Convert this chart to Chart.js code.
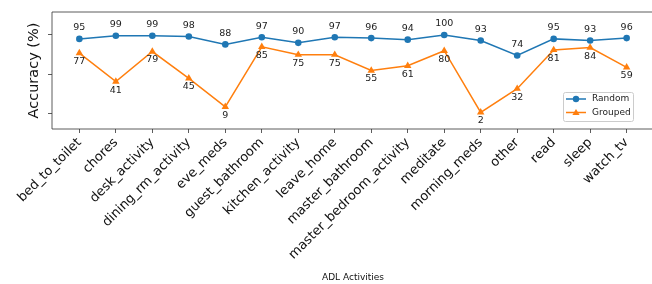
<!DOCTYPE html>
<html>
<head>
<meta charset="utf-8">
<script src="https://cdn.jsdelivr.net/npm/chart.js@4.4.0/dist/chart.umd.min.js"></script>
<style>
  html, body { margin: 0; padding: 0; background: #fff; overflow: hidden; }
  #wrap { width: 652px; height: 284px; overflow: hidden; position: relative; }
  #accChart { position: absolute; left: 0; top: 0; }
</style>
</head>
<body>
<div id="wrap"><canvas id="accChart" width="700" height="284" style="width:700px;height:284px"></canvas></div>
<script>
const activities = ['bed_to_toilet', 'chores', 'desk_activity', 'dining_rm_activity', 'eve_meds',
  'guest_bathroom', 'kitchen_activity', 'leave_home', 'master_bathroom', 'master_bedroom_activity',
  'meditate', 'morning_meds', 'other', 'read', 'sleep', 'watch_tv'];
const randomAcc = [95, 99, 99, 98, 88, 97, 90, 97, 96, 94, 100, 93, 74, 95, 93, 96];
const groupedAcc = [77, 41, 79, 45, 9, 85, 75, 75, 55, 61, 80, 2, 32, 81, 84, 59];
const yTicks = [0, 50, 100];

const blue = '#1f77b4';
const orange = '#ff7f0e';
const font = 'DejaVu Sans';

// point labels (value above for Random, below for Grouped)
const valueLabels = {
  id: 'valueLabels',
  afterDatasetsDraw(chart) {
    const ctx = chart.ctx;
    ctx.save();
    ctx.font = '9.5px "' + font + '"';
    ctx.fillStyle = '#222';
    ctx.textAlign = 'center';
    ctx.textBaseline = 'middle';
    chart.data.datasets.forEach((ds, i) => {
      const meta = chart.getDatasetMeta(i);
      meta.data.forEach((pt, j) => {
        const dy = i === 0 ? -11 : 8.5;
        ctx.fillText(String(ds.data[j].y), pt.x, pt.y + dy);
      });
    });
    ctx.restore();
  }
};

function segment(ctx, x1, y1, x2, y2) {
  ctx.beginPath();
  ctx.moveTo(x1, y1);
  ctx.lineTo(x2, y2);
  ctx.stroke();
}

// left/top/bottom spines (right one falls off the page) + legend
const frameAndLegend = {
  id: 'frameAndLegend',
  afterDraw(chart) {
    const ctx = chart.ctx;
    const a = chart.chartArea;
    ctx.save();
    ctx.strokeStyle = '#333';
    ctx.lineWidth = 0.8;
    segment(ctx, a.left, a.top, a.right, a.top);
    segment(ctx, a.left, a.bottom, a.right, a.bottom);
    segment(ctx, a.left, a.top, a.left, a.bottom);

    const bx = a.right - 91, by = a.bottom - 37, bw = 70, bh = 29;
    ctx.fillStyle = 'rgba(255,255,255,0.8)';
    ctx.strokeStyle = '#ccc';
    ctx.lineWidth = 1;
    ctx.beginPath();
    ctx.roundRect(bx + 0.5, by + 0.5, bw, bh, 2);
    ctx.fill();
    ctx.stroke();

    ctx.font = '9px "' + font + '"';
    ctx.textAlign = 'left';
    ctx.textBaseline = 'middle';
    chart.data.datasets.forEach((ds, i) => {
      const ly = by + 7 + i * 13.5;
      ctx.strokeStyle = ds.borderColor;
      ctx.lineWidth = 1.5;
      segment(ctx, bx + 3, ly, bx + 23, ly);
      ctx.fillStyle = ds.borderColor;
      ctx.beginPath();
      if (i === 0) {
        ctx.arc(bx + 13, ly, 3.2, 0, Math.PI * 2);
      } else {
        ctx.moveTo(bx + 13, ly - 3.6);
        ctx.lineTo(bx + 16.6, ly + 2.6);
        ctx.lineTo(bx + 9.4, ly + 2.6);
        ctx.closePath();
      }
      ctx.fill();
      ctx.fillStyle = '#222';
      ctx.fillText(ds.label, bx + 29, ly);
    });
    ctx.restore();
  }
};

const ctx = document.getElementById('accChart').getContext('2d');
const chart = new Chart(ctx, {
  type: 'line',
  data: {
    datasets: [{
      label: 'Random',
      data: randomAcc.map((v, i) => ({ x: i, y: v })),
      borderColor: blue,
      backgroundColor: blue,
      borderWidth: 1.5,
      pointRadius: 3.3,
      pointBorderWidth: 0
    }, {
      label: 'Grouped',
      data: groupedAcc.map((v, i) => ({ x: i, y: v })),
      borderColor: orange,
      backgroundColor: orange,
      borderWidth: 1.5,
      pointStyle: 'triangle',
      pointRadius: 4.3,
      pointBorderWidth: 0
    }]
  },
  options: {
    responsive: false,
    animation: false,
    layout: { padding: { left: 0, right: 46, top: 12, bottom: 0 } },
    plugins: { legend: { display: false }, tooltip: { enabled: false } },
    scales: {
      x: {
        type: 'linear',
        min: -0.75,
        max: activities.length - 0.25,
        afterBuildTicks: (s) => { s.ticks = activities.map((_, i) => ({ value: i })); },
        afterFit: (s) => { s.height = 155; },
        border: { display: false },
        grid: { drawOnChartArea: false, tickLength: 4, color: '#333', tickWidth: 0.8 },
        ticks: {
          autoSkip: false, minRotation: 45, maxRotation: 45, padding: 2, color: '#111',
          font: { family: font, size: 13 },
          callback: (v) => activities[v] || ''
        },
        title: { display: true, text: 'ADL Activities', color: '#111', font: { family: font, size: 9 }, padding: { top: 0, bottom: 1 } }
      },
      y: {
        min: -19,
        max: 129,
        afterBuildTicks: (s) => { s.ticks = yTicks.map(v => ({ value: v })); },
        afterFit: (s) => { s.width = 52; },
        border: { display: false },
        grid: { drawOnChartArea: false, tickLength: 4, color: '#333', tickWidth: 0.8 },
        ticks: { display: false },
        title: { display: true, text: 'Accuracy (%)', color: '#111', font: { family: font, size: 14.5 }, padding: { top: 26, bottom: 0 } }
      }
    }
  },
  plugins: [valueLabels, frameAndLegend]
});
</script>
</body>
</html>
